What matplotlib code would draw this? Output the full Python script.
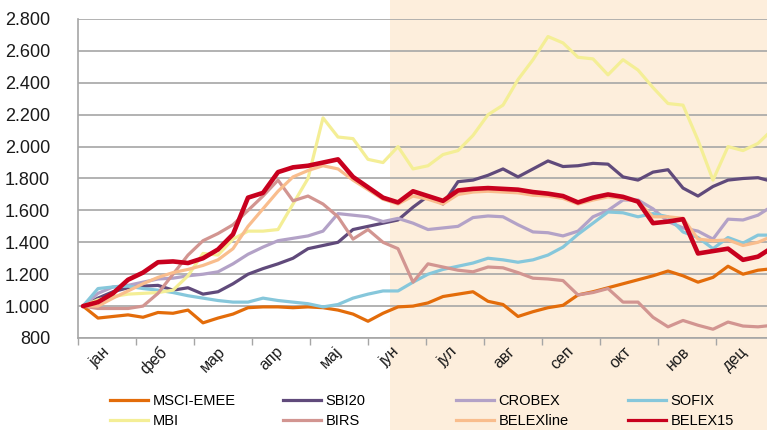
import numpy as np
import matplotlib
matplotlib.use("Agg")
import matplotlib.pyplot as plt
from matplotlib.patches import Rectangle
from matplotlib.ticker import FuncFormatter, MultipleLocator

plt.rcParams['font.family'] = ['Liberation Sans', 'DejaVu Sans']

# месеци
months = ["јан", "феб", "мар", "апр", "мај", "јун", "јул", "авг", "сеп", "окт", "нов", "дец"]

# вредности индекса (почетак = 1.000), приближно недељно очитавање
msci = [1000, 925, 935, 945, 930, 960, 955, 975, 895, 925,
        950, 990, 995, 995, 990, 995, 990, 975, 950, 905,
        955, 995, 1000, 1020, 1060, 1075, 1090, 1030, 1010, 935,
        965, 990, 1005, 1070, 1090, 1115, 1140, 1165, 1190, 1220,
        1190, 1150, 1180, 1250, 1200, 1225, 1235]
sbi20 = [1000, 1050, 1090, 1115, 1125, 1130, 1100, 1115, 1075, 1090,
         1140, 1200, 1235, 1265, 1300, 1360, 1380, 1400, 1480, 1500,
         1520, 1540, 1620, 1690, 1640, 1780, 1790, 1820, 1860, 1810,
         1860, 1910, 1875, 1880, 1895, 1890, 1810, 1790, 1840, 1855,
         1740, 1690, 1750, 1790, 1800, 1805, 1780]
crobex = [1000, 1080, 1120, 1130, 1150, 1170, 1175, 1190, 1200, 1215,
          1265, 1325, 1370, 1410, 1425, 1440, 1470, 1580, 1570, 1560,
          1530, 1550, 1520, 1480, 1490, 1500, 1555, 1565, 1560, 1510,
          1465, 1460, 1440, 1470, 1560, 1600, 1665, 1665, 1610, 1530,
          1490, 1470, 1420, 1545, 1540, 1570, 1630]
sofix = [1000, 1110, 1120, 1125, 1110, 1100, 1085, 1065, 1050, 1035,
         1025, 1025, 1050, 1035, 1025, 1015, 995, 1010, 1050, 1075,
         1095, 1095, 1150, 1200, 1230, 1250, 1270, 1300, 1290, 1275,
         1290, 1320, 1370, 1450, 1520, 1590, 1585, 1560, 1580, 1560,
         1465, 1430, 1360, 1430, 1395, 1445, 1445]
mbi = [1000, 1040, 1060, 1075, 1080, 1085, 1100, 1190, 1330, 1320,
       1420, 1470, 1470, 1480, 1640, 1800, 2180, 2060, 2050, 1920,
       1900, 2000, 1860, 1880, 1950, 1975, 2070, 2200, 2260, 2420,
       2545, 2690, 2650, 2560, 2550, 2450, 2545, 2480, 2370, 2270,
       2260, 2040, 1790, 2000, 1975, 2020, 2110]
birs = [1000, 985, 985, 985, 1000, 1080, 1200, 1320, 1410, 1455,
        1510, 1600, 1690, 1790, 1660, 1690, 1640, 1560, 1420, 1480,
        1400, 1360, 1150, 1265, 1245, 1225, 1215, 1245, 1240, 1210,
        1175, 1170, 1160, 1070, 1085, 1110, 1025, 1025, 930, 870,
        910, 880, 855, 900, 875, 870, 880]
belexline = [1000, 1000, 1050, 1095, 1140, 1180, 1210, 1230, 1255, 1290,
             1360, 1500, 1610, 1720, 1810, 1850, 1880, 1860, 1790, 1730,
             1670, 1640, 1690, 1670, 1640, 1700, 1715, 1720, 1715, 1710,
             1695, 1690, 1675, 1640, 1665, 1685, 1675, 1655, 1560, 1560,
             1550, 1420, 1410, 1415, 1380, 1400, 1440]
belex15 = [1000, 1025, 1080, 1165, 1210, 1275, 1280, 1270, 1300, 1355,
           1450, 1680, 1710, 1840, 1870, 1880, 1900, 1920, 1810, 1745,
           1680, 1650, 1720, 1690, 1660, 1725, 1735, 1740, 1735, 1730,
           1715, 1705, 1690, 1650, 1680, 1700, 1685, 1655, 1520, 1530,
           1545, 1330, 1345, 1360, 1290, 1310, 1370]

series = [
    ("MSCI-EMEE", msci, "#e36c0a", 2.3),
    ("SBI20", sbi20, "#604a7b", 2.3),
    ("CROBEX", crobex, "#b3a2c7", 2.3),
    ("SOFIX", sofix, "#86c7db", 2.3),
    ("MBI", mbi, "#f4ee96", 2.3),
    ("BIRS", birs, "#d29591", 2.3),
    ("BELEXline", belexline, "#f9bd8d", 2.3),
    ("BELEX15", belex15, "#c8001e", 3.3),
]

W, H = 767, 430
fig = plt.figure(figsize=(W / 100, H / 100), dpi=100)
fig.patches.append(Rectangle((390 / W, 0), 1 - 390 / W, 1, transform=fig.transFigure,
                             facecolor="#fdeedc", edgecolor="none", zorder=-10))

ax = fig.add_axes([78 / W, 1 - 338 / H, 1 - 78 / W, (338 - 19) / H])
ax.set_facecolor("none")

n = len(msci)
x = 5 / 58 + np.arange(n) * 15 / 58

lines = {}
for name, vals, col, lw in series:
    lines[name], = ax.plot(x, vals, color=col, lw=lw, label=name,
                           solid_joinstyle="round", solid_capstyle="round")

ax.set_xlim(0, 689 / 58)
ax.set_ylim(800, 2800)
ax.yaxis.set_major_locator(MultipleLocator(200))
ax.yaxis.set_major_formatter(FuncFormatter(lambda v, p: f"{v:,.0f}".replace(",", ".")))
ax.grid(axis="y", color="#a6a6a6", lw=1.2)
ax.set_axisbelow(True)
ax.tick_params(axis="y", length=0, pad=20, labelsize=13, colors="#1a1a1a")

ax.set_xticks(np.arange(12))
ax.set_xticklabels([])
ax.set_xticks(np.arange(12) + 0.5, minor=True)
ax.set_xticklabels(months, minor=True, rotation=45, ha="right", va="center",
                   rotation_mode="anchor", fontsize=11.5, color="#1a1a1a")
ax.tick_params(axis="x", which="major", length=5, width=1, color="#a6a6a6")
ax.tick_params(axis="x", which="minor", length=0, pad=8)

for s in ["top", "right"]:
    ax.spines[s].set_visible(False)
for s in ["left", "bottom"]:
    ax.spines[s].set_color("#a6a6a6")
    ax.spines[s].set_linewidth(1.2)

# легенда у 4 колоне
legend_cols = [(110, ["MSCI-EMEE", "MBI"]), (283, ["SBI20", "BIRS"]),
               (456, ["CROBEX", "BELEXline"]), (628, ["SOFIX", "BELEX15"])]
for px, names in legend_cols:
    hs = [plt.Line2D([], [], color=lines[nm].get_color(), lw=2.3) for nm in names]
    fig.legend(hs, names, loc="center left", bbox_to_anchor=(px / W, 1 - 411 / H),
               frameon=False, fontsize=10.5, handlelength=2.6, handletextpad=0.3,
               labelspacing=0.45, borderpad=0, borderaxespad=0)

fig.savefig("out.png", dpi=100)
